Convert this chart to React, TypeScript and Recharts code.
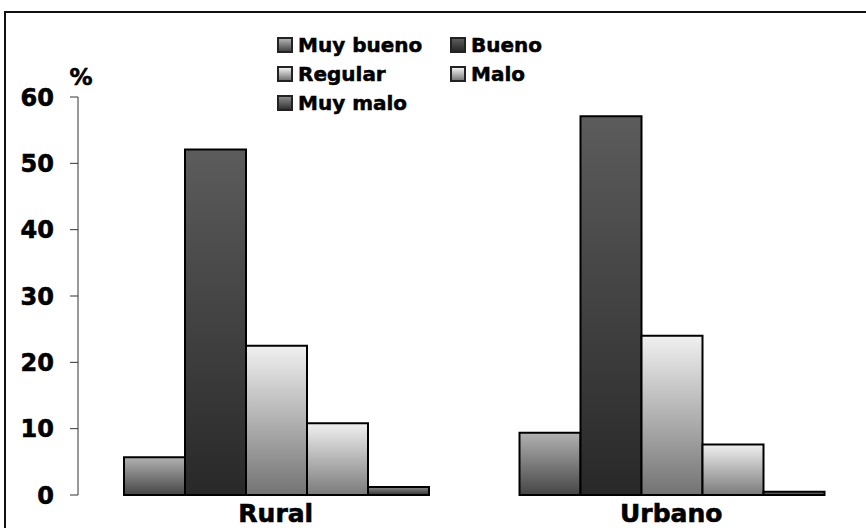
import { Bar, BarChart, Legend, XAxis, YAxis } from "recharts";

const categories = ["Rural", "Urbano"];
const muyBueno = [5.7, 9.4];
const bueno = [52.1, 57.1];
const regular = [22.5, 24.0];
const malo = [10.8, 7.6];
const muyMalo = [1.2, 0.5];
const yTicks = [0, 10, 20, 30, 40, 50, 60];

const data = categories.map((name, i) => ({
  name,
  muyBueno: muyBueno[i],
  bueno: bueno[i],
  regular: regular[i],
  malo: malo[i],
  muyMalo: muyMalo[i],
}));

// gradient colours for each series (top -> bottom)
const series = [
  { key: "muyBueno", name: "Muy bueno", top: "#b2b2b2", bottom: "#454545" },
  { key: "bueno", name: "Bueno", top: "#5c5c5c", bottom: "#282828" },
  { key: "regular", name: "Regular", top: "#f0f0f0", bottom: "#737373" },
  { key: "malo", name: "Malo", top: "#f0f0f0", bottom: "#7a7a7a" },
  { key: "muyMalo", name: "Muy malo", top: "#8a8a8a", bottom: "#333333" },
];

const FONT = "'DejaVu Sans', Verdana, sans-serif";
// the original uses a heavier bold, so thicken the glyphs a little
const heavy = { stroke: "#000", strokeWidth: 0.6 };

const LegendBox = () => (
  <div
    style={{
      display: "grid",
      gridTemplateColumns: "173px auto",
      rowGap: 7,
      fontFamily: FONT,
      fontWeight: "bold",
      fontSize: 20,
      color: "#000",
      WebkitTextStroke: "0.5px #000",
    }}
  >
    {series.map((s) => (
      <div key={s.key} style={{ display: "flex", alignItems: "center", height: 22, whiteSpace: "nowrap" }}>
        <span
          style={{
            display: "inline-block",
            width: 12,
            height: 12,
            border: "2px solid #222",
            background: `linear-gradient(${s.top}, ${s.bottom})`,
            marginRight: 5,
          }}
        />
        {s.name}
      </div>
    ))}
  </div>
);

const PercentLabel = (props: any) => {
  const vb = props.viewBox || {};
  return (
    <text
      x={vb.x + vb.width + 3}
      y={vb.y - 12}
      textAnchor="middle"
      fontFamily={FONT}
      fontWeight="bold"
      fontSize={23}
      fill="#000"
      {...heavy}
    >
      %
    </text>
  );
};

export default function App() {
  return (
    <div
      style={{
        position: "absolute",
        left: 0,
        top: 0,
        width: 866,
        height: 528,
        overflow: "hidden",
        background: "#fff",
      }}
    >
      <div
        style={{
          position: "absolute",
          left: 4,
          top: 11,
          width: 900,
          height: 600,
          borderTop: "2px solid #111",
          borderLeft: "2px solid #111",
        }}
      />
      <BarChart
        width={869}
        height={528}
        data={data}
        margin={{ top: 97, right: 0, bottom: 3, left: 0 }}
        barCategoryGap={46}
        barGap={0}
        style={{ fontFamily: FONT }}
      >
        <defs>
          {series.map((s) => (
            <linearGradient key={s.key} id={`grad-${s.key}`} x1="0" y1="0" x2="0" y2="1">
              <stop offset="0%" stopColor={s.top} />
              <stop offset="100%" stopColor={s.bottom} />
            </linearGradient>
          ))}
        </defs>
        <XAxis
          dataKey="name"
          height={30}
          axisLine={false}
          tickLine={false}
          tickSize={6}
          tickMargin={3}
          tick={{ fill: "#000", fontSize: 25, fontWeight: "bold", fontFamily: FONT, ...heavy }}
        />
        <YAxis
          width={78}
          domain={[0, 60]}
          ticks={yTicks}
          interval={0}
          axisLine={{ stroke: "#333", strokeWidth: 1 }}
          tickLine={{ stroke: "#333", strokeWidth: 1 }}
          tickSize={8}
          tickMargin={16}
          tick={{ fill: "#000", fontSize: 24, fontWeight: "bold", fontFamily: FONT, ...heavy }}
          label={PercentLabel}
        />
        <Legend
          layout="vertical"
          align="center"
          verticalAlign="middle"
          wrapperStyle={{ top: 34, left: 277, width: 420 }}
          content={() => <LegendBox />}
        />
        {series.map((s) => (
          <Bar
            key={s.key}
            dataKey={s.key}
            name={s.name}
            fill={`url(#grad-${s.key})`}
            stroke="#000"
            strokeWidth={2}
            isAnimationActive={false}
          />
        ))}
      </BarChart>
    </div>
  );
}
